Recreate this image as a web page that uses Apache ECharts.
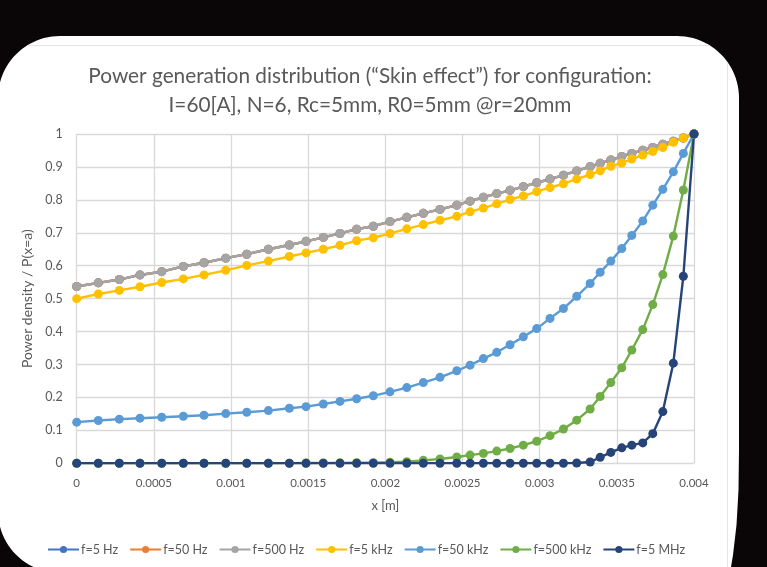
<!DOCTYPE html>
<html>
<head>
<meta charset="utf-8">
<script src="https://cdn.jsdelivr.net/npm/echarts@6/dist/echarts.min.js"></script>
<style>
  html, body { margin: 0; padding: 0; background: #0a0506; }
  #chart { width: 767px; height: 567px; }
</style>
</head>
<body>
<div id="chart"></div>
<script>
// Radial position inside the conductor, x [m] (mesh refined toward the surface)
const xPositions = [
  0, 0.000140, 0.000276, 0.000410, 0.000551, 0.000691, 0.000825, 0.000966, 0.001102, 0.001242,
  0.001378, 0.001486, 0.001598, 0.001706, 0.001814, 0.001922, 0.002030, 0.002139, 0.002246, 0.002354,
  0.002463, 0.002549, 0.002635, 0.002722, 0.002808, 0.002894, 0.002981, 0.003067, 0.003154, 0.003240,
  0.003327, 0.003392, 0.003461, 0.003532, 0.003597, 0.003668, 0.003733, 0.003798, 0.003866, 0.003931,
  0.004
];

// Normalised power density P(x)/P(x=a) for each excitation frequency
const f5Hz = [
  0.537, 0.548, 0.558, 0.572, 0.582, 0.598, 0.609, 0.623, 0.635, 0.650,
  0.663, 0.674, 0.686, 0.698, 0.711, 0.720, 0.734, 0.747, 0.759, 0.771,
  0.784, 0.796, 0.808, 0.819, 0.829, 0.840, 0.852, 0.863, 0.875, 0.888,
  0.901, 0.911, 0.921, 0.932, 0.941, 0.951, 0.959, 0.969, 0.978, 0.988,
  1.000
];
const f50Hz = [
  0.537, 0.548, 0.558, 0.572, 0.582, 0.598, 0.609, 0.623, 0.635, 0.650,
  0.663, 0.674, 0.686, 0.698, 0.711, 0.720, 0.734, 0.747, 0.759, 0.771,
  0.784, 0.796, 0.808, 0.819, 0.829, 0.840, 0.852, 0.863, 0.875, 0.888,
  0.901, 0.911, 0.921, 0.932, 0.941, 0.951, 0.959, 0.969, 0.978, 0.988,
  1.000
];
const f500Hz = [
  0.537, 0.548, 0.558, 0.572, 0.582, 0.598, 0.609, 0.623, 0.635, 0.650,
  0.663, 0.674, 0.686, 0.698, 0.711, 0.720, 0.734, 0.747, 0.759, 0.771,
  0.784, 0.796, 0.808, 0.819, 0.829, 0.840, 0.852, 0.863, 0.875, 0.888,
  0.901, 0.911, 0.921, 0.932, 0.941, 0.951, 0.959, 0.969, 0.978, 0.988,
  1.000
];
const f5kHz = [
  0.500, 0.514, 0.525, 0.536, 0.549, 0.560, 0.572, 0.586, 0.601, 0.614,
  0.628, 0.639, 0.650, 0.662, 0.676, 0.685, 0.698, 0.712, 0.725, 0.738,
  0.750, 0.764, 0.775, 0.788, 0.801, 0.812, 0.825, 0.837, 0.849, 0.863,
  0.877, 0.888, 0.902, 0.912, 0.924, 0.936, 0.947, 0.959, 0.975, 0.988,
  1.000
];
const f50kHz = [
  0.125, 0.130, 0.134, 0.137, 0.140, 0.143, 0.146, 0.151, 0.155, 0.160,
  0.167, 0.172, 0.180, 0.188, 0.196, 0.205, 0.217, 0.230, 0.245, 0.261,
  0.281, 0.298, 0.318, 0.337, 0.360, 0.384, 0.409, 0.440, 0.470, 0.507,
  0.546, 0.580, 0.614, 0.652, 0.692, 0.736, 0.784, 0.832, 0.885, 0.941,
  1.000
];
const f500kHz = [
  0, 0, 0, 0, 0, 0, 0, 0, 0, 0.0003,
  0.0005, 0.0007, 0.001, 0.0013, 0.0017, 0.002, 0.003, 0.005, 0.009, 0.013,
  0.019, 0.025, 0.030, 0.037, 0.045, 0.055, 0.067, 0.084, 0.104, 0.131,
  0.165, 0.203, 0.245, 0.290, 0.344, 0.406, 0.482, 0.573, 0.690, 0.830,
  1.000
];
const f5MHz = [
  0, 0, 0, 0, 0, 0, 0, 0, 0, 0,
  0, 0, 0, 0, 0, 0, 0, 0, 0, 0,
  0, 0, 0, 0, 0, 0, 0, 0, 0, 0.001,
  0.004, 0.018, 0.033, 0.047, 0.055, 0.062, 0.090, 0.157, 0.304, 0.568,
  1.000
];

const seriesNames = ['f=5 Hz', 'f=50 Hz', 'f=500 Hz', 'f=5 kHz', 'f=50 kHz', 'f=500 kHz', 'f=5 MHz'];
const seriesValues = [f5Hz, f50Hz, f500Hz, f5kHz, f50kHz, f500kHz, f5MHz];
const seriesColors = ['#4472C4', '#ED7D31', '#A5A5A5', '#FFC000', '#5B9BD5', '#70AD47', '#264478'];

// Axis ticks
const xTicks = [0, 0.0005, 0.001, 0.0015, 0.002, 0.0025, 0.003, 0.0035, 0.004];
const yTicks = [0, 0.1, 0.2, 0.3, 0.4, 0.5, 0.6, 0.7, 0.8, 0.9, 1];

const titleLines = [
  'Power generation distribution (\u201CSkin effect\u201D) for configuration:',
  'I=60[A], N=6, Rc=5mm, R0=5mm @r=20mm'
];

const FONT = 'Lato, "Open Sans", sans-serif';
const TEXT = '#595959';
const GRIDLINE = '#d9d9d9';

// Outline of the white panel behind the chart: rounded corners sampled as arcs
function arcPoints(cx, cy, r, a0, a1, steps) {
  const pts = [];
  for (let i = 0; i <= steps; i++) {
    const a = a0 + (a1 - a0) * i / steps;
    pts.push([cx + r * Math.cos(a), cy + r * Math.sin(a)]);
  }
  return pts;
}
const PI = Math.PI;
const panelOutline = [].concat(
  arcPoints(60, 98, 62, PI, 1.5 * PI, 24),        // top-left corner
  arcPoints(677, 98, 62, 1.5 * PI, 2 * PI, 24),   // top-right corner
  [[739, 450], [738.5, 490], [736.5, 525], [733, 555], [728, 585]], // lower right edge
  [[60, 585]],
  arcPoints(60, 511, 62, 0.5 * PI, PI, 24)        // bottom-left corner
);

const chart = echarts.init(document.getElementById('chart'), null, { renderer: 'canvas' });

chart.setOption({
  animation: false,
  backgroundColor: '#0a0506',
  graphic: [
    {
      type: 'polygon',
      z: -10,
      silent: true,
      shape: { points: panelOutline },
      style: { fill: '#ffffff' }
    },
    {
      // chart-area frame, only the part lying on the panel
      type: 'polyline',
      z: -9,
      silent: true,
      shape: { points: [[27, 45.5], [710, 45.5]] },
      style: { fill: null, stroke: '#e4e4e4', lineWidth: 1 }
    },
    {
      type: 'polyline',
      z: -9,
      silent: true,
      shape: { points: [[727.5, 62], [727.5, 580]] },
      style: { fill: null, stroke: '#e4e4e4', lineWidth: 1 }
    }
  ],
  title: {
    text: titleLines.join('\n'),
    left: 365,
    top: 57,
    textAlign: 'center',
    textStyle: {
      fontFamily: FONT,
      fontSize: 20.8,
      fontWeight: 'normal',
      color: TEXT,
      lineHeight: 29
    }
  },
  legend: {
    bottom: 11,
    left: 47,
    padding: 0,
    itemWidth: 31,
    itemHeight: 9,
    itemGap: 11,
    data: seriesNames,
    textStyle: { fontFamily: FONT, fontSize: 12.5, color: TEXT, padding: [0, 0, 0, -3] }
  },
  grid: {
    left: 76.7,
    right: 73,
    top: 134,
    bottom: 103.7,
    containLabel: false
  },
  xAxis: {
    type: 'value',
    min: xTicks[0],
    max: xTicks[xTicks.length - 1],
    interval: xTicks[1] - xTicks[0],
    name: 'x [m]',
    nameLocation: 'middle',
    nameGap: 36,
    nameTextStyle: { fontFamily: FONT, fontSize: 13, color: TEXT },
    axisLine: { show: false },
    axisTick: { show: false },
    axisLabel: {
      margin: 14,
      fontFamily: FONT,
      fontSize: 11.5,
      color: TEXT,
      formatter: v => String(xTicks.find(t => Math.abs(t - v) < 1e-9) ?? v)
    },
    splitLine: { show: true, lineStyle: { color: GRIDLINE, width: 1.3 } }
  },
  yAxis: {
    type: 'value',
    min: yTicks[0],
    max: yTicks[yTicks.length - 1],
    interval: 0.1,
    name: 'Power density / P(x=a)',
    nameLocation: 'middle',
    nameGap: 38,
    nameTextStyle: { fontFamily: FONT, fontSize: 14, color: TEXT },
    axisLine: { show: false },
    axisTick: { show: false },
    axisLabel: {
      margin: 14,
      fontFamily: FONT,
      fontSize: 12.5,
      color: TEXT,
      formatter: v => String(yTicks.find(t => Math.abs(t - v) < 1e-9) ?? v)
    },
    splitLine: { show: true, lineStyle: { color: GRIDLINE, width: 1.3 } }
  },
  series: seriesNames.map((name, i) => ({
    name: name,
    type: 'line',
    data: xPositions.map((x, k) => [x, seriesValues[i][k]]),
    symbol: 'circle',
    symbolSize: 9,
    showSymbol: true,
    color: seriesColors[i],
    itemStyle: { color: seriesColors[i] },
    lineStyle: { color: seriesColors[i], width: 2.4 },
    emphasis: { disabled: true }
  }))
});
</script>
</body>
</html>
